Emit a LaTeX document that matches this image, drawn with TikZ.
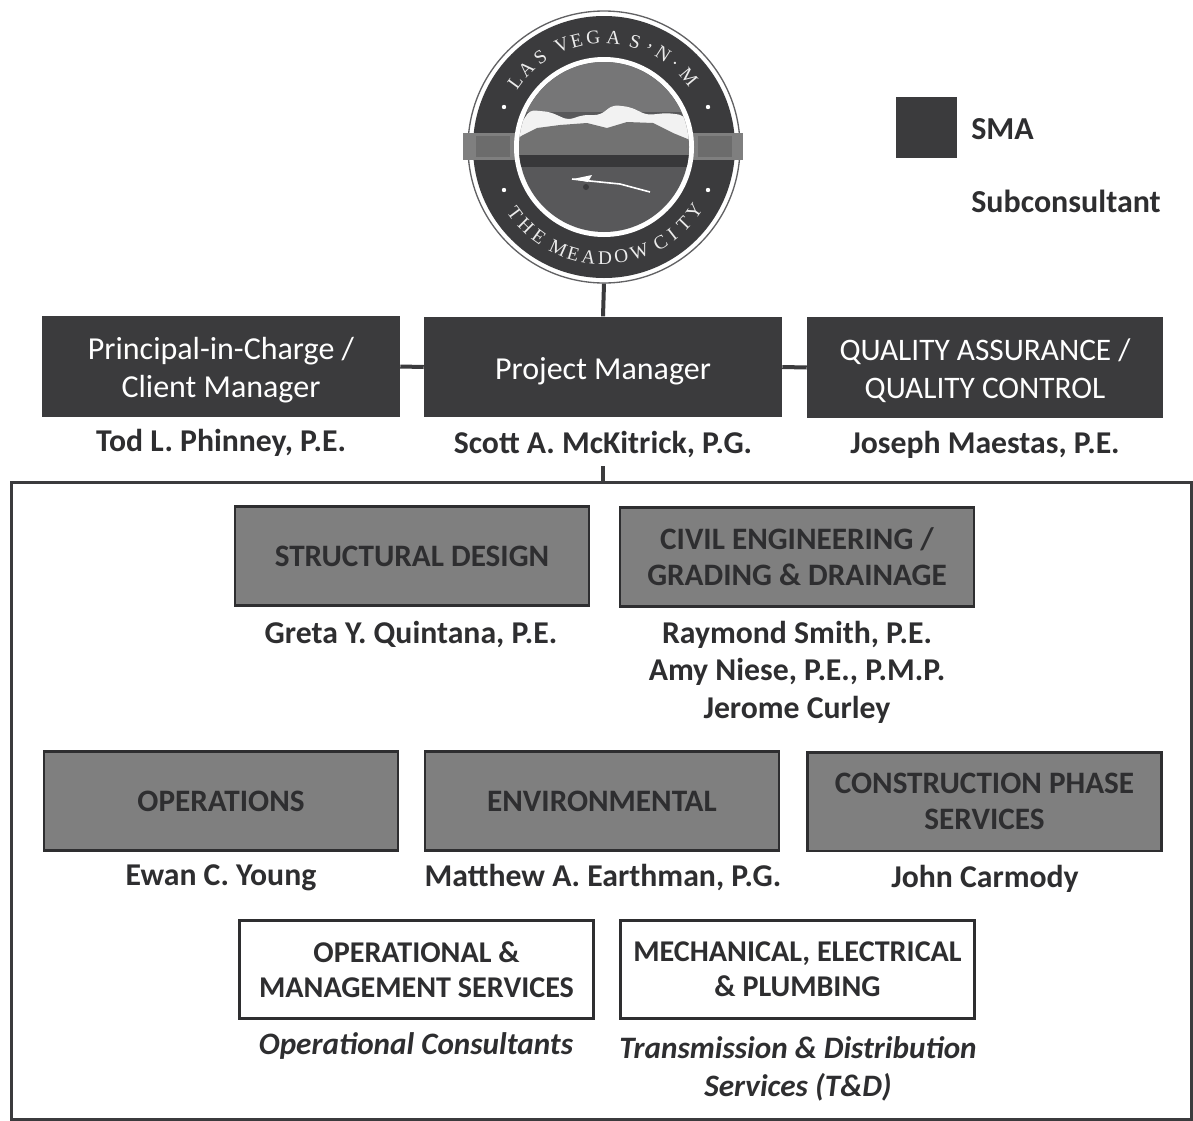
\documentclass[tikz,border=0pt]{standalone}
\usepackage{fontspec}
\setmainfont{Carlito}
\newfontfamily\sealfont{Liberation Serif}
\definecolor{sma}{HTML}{3B3B3D}
\definecolor{midgray}{HTML}{7F7F7F}
\definecolor{inkc}{HTML}{2E2E30}
\newcommand{\dropped}[1]{\raisebox{-9pt}[0pt][0pt]{#1}}
\tikzset{x=0.75pt,y=-0.75pt,
  darkbox/.style={draw=none,fill=sma,text=white,minimum width=268.5pt,minimum height=75.5pt,inner sep=0pt,align=center,font=\fontsize{24}{28}\selectfont},
  graybox/.style={draw=inkc,line width=2pt,fill=midgray,text=inkc,minimum width=265.5pt,minimum height=74pt,inner sep=0pt,align=center,font=\fontsize{23.4}{27}\selectfont\bfseries},
  whitebox/.style={draw=inkc,line width=2.2pt,fill=white,text=inkc,minimum width=265pt,minimum height=73pt,inner sep=0pt,align=center,font=\fontsize{22.6}{26}\selectfont\bfseries},
  namelabel/.style={text=inkc,inner sep=0pt,align=center,font=\fontsize{23.8}{28}\selectfont\bfseries},
  sublabel/.style={text=inkc,inner sep=0pt,align=center,font=\fontsize{23.4}{28.5}\selectfont\bfseries\itshape},
  sealletter/.style={text=white!92!black,inner sep=0pt,font=\fontsize{14.5}{16}\sealfont},
  link/.style={draw=sma,line width=3pt}
}
\begin{document}
\begin{tikzpicture}
\useasboundingbox[fill=white] (0,0) rectangle (1193,1121);
% logo
\node[circle,draw=sma!80!white,line width=1pt,fill=white,minimum size=204pt,inner sep=0pt] (logo) at (604,147) {};
\fill[sma] (604,147) circle (131);
\fill[midgray] (463,133) rectangle (743,160);
\fill[midgray!85!black] (476,136) rectangle (510,157);
\fill[midgray!85!black] (698,136) rectangle (732,157);
\fill[white] (604,147) circle (90);
\begin{scope}
\clip (604,147) circle (85);
\fill[sma!85!white] (510,50) rectangle (700,240);
\fill[sma!70!white] (510,50) rectangle (700,112);
\fill[white!95!black,rounded corners=4pt] (510,145) -- (520,125) -- (530,110) -- (550,112) -- (568,120) -- (583,115) -- (600,115) -- (613,105) -- (630,107) -- (647,115) -- (667,113) -- (683,115) -- (705,145) -- cycle;
\fill[midgray!90!black] (515,165) -- (515,140) -- (523,135) -- (537,128) -- (560,125) -- (587,123) -- (607,128) -- (627,122) -- (653,123) -- (673,133) -- (690,140) -- (700,145) -- (700,165) -- cycle;
\fill[sma!95!black] (510,155) rectangle (700,167);
\end{scope}
\draw[white,line width=1.2pt] (572,179) -- (590,181) -- (620,184) -- (650,192);
\fill[white] (573,179) -- (592,175) -- (588,182) -- cycle;
\fill[sma] (586,187) circle (3);
\foreach \a/\b in {504/107,708/107,504/190,708/190}{\fill[white] (\a,\b) circle (2.2);}
\foreach \ch/\ang [count=\i] in {L/143.7,A/135,S/125.4,V/112.5,E/104.5,G/95.6,A/85,S/73.6,{,}/65.4,N/57.4,./49.8,M/39.7}
  \node[sealletter,rotate=\ang-90] (top\i) at ({604+110*cos(\ang)},{147-110*sin(\ang)}) {\ch};
\foreach \ch/\ang [count=\i] in {T/216.7,H/225.3,E/234,M/245.7,E/254,A/262,D/270.5,O/279,W/288.7,C/300.6,I/308,T/316,Y/324.4}
  \node[sealletter,rotate=\ang+90] (bot\i) at ({604+111*cos(\ang)},{147-111*sin(\ang)}) {\ch};
% legend
\node[fill=sma,minimum size=45.5pt,inner sep=0pt] (legend) at (926.5,127.5) {};
\node[anchor=west,inner sep=0pt,text=inkc,font=\fontsize{24}{28}\selectfont\bfseries] (smalabel) at (971,129) {SMA};
\node[anchor=west,inner sep=0pt,text=inkc,font=\fontsize{24}{28}\selectfont\bfseries] (sublegend) at (971,201) {Subconsultant};
% top row
\node[darkbox] (pic) at (221,366.5) {\dropped{Principal-in-Charge /}\\\dropped{Client Manager}};
\node[darkbox] (pm) at (603,367) {\dropped{Project Manager}};
\node[darkbox,minimum width=267pt,font=\fontsize{23.5}{28}\selectfont] (qa) at (985,367.5) {\dropped{QUALITY ASSURANCE /}\\\dropped{QUALITY CONTROL}};
\node[namelabel] (tod) at (221,443) {Tod L. Phinney, P.E.};
\node[namelabel] (scott) at (603,444.5) {Scott A. McKitrick, P.G.};
\node[namelabel] (joseph) at (985,444.5) {Joseph Maestas, P.E.};
% frame
\node[draw=sma,line width=2.2pt,minimum width=885.5pt,minimum height=478pt,inner sep=0pt] (frame) at (601.5,801) {};
\draw[link] (logo.south) -- (pm.north);
\draw[link] (pic.east) -- (pm.west);
\draw[link] (pm.east) -- (qa.west);
\coordinate (tick) at (603,466);
\draw[link] (tick) -- (tick |- frame.north);
% gray boxes
\node[graybox] (struct) at (412,556) {\raisebox{-1pt}{STRUCTURAL DESIGN}};
\node[graybox] (civil) at (797,557) {CIVIL ENGINEERING /\\GRADING \& DRAINAGE};
\node[graybox] (ops) at (221,801) {\raisebox{-1pt}{OPERATIONS}};
\node[graybox] (env) at (602,801) {\raisebox{-1pt}{ENVIRONMENTAL}};
\node[graybox] (cons) at (984.5,801.5) {CONSTRUCTION PHASE\\SERVICES};
\node[namelabel] (greta) at (411,635) {Greta Y. Quintana, P.E.};
\node[namelabel,anchor=north] (raymond) at (797,621) {Raymond Smith, P.E.\\Amy Niese, P.E., P.M.P.\\Jerome Curley};
\node[namelabel] (ewan) at (221,878) {Ewan C. Young};
\node[namelabel] (matthew) at (603,878) {Matthew A. Earthman, P.G.};
\node[namelabel] (john) at (985,879) {John Carmody};
% white boxes
\node[whitebox] (opman) at (416.5,969.5) {OPERATIONAL \&\\MANAGEMENT SERVICES};
\node[whitebox] (mep) at (797.5,969.5) {MECHANICAL, ELECTRICAL\\\& PLUMBING};
\node[sublabel] (opcon) at (416,1046) {Operational Consultants};
\node[sublabel,anchor=north] (td) at (798,1036) {Transmission \& Distribution\\Services (T\&D)};
\end{tikzpicture}
\end{document}
